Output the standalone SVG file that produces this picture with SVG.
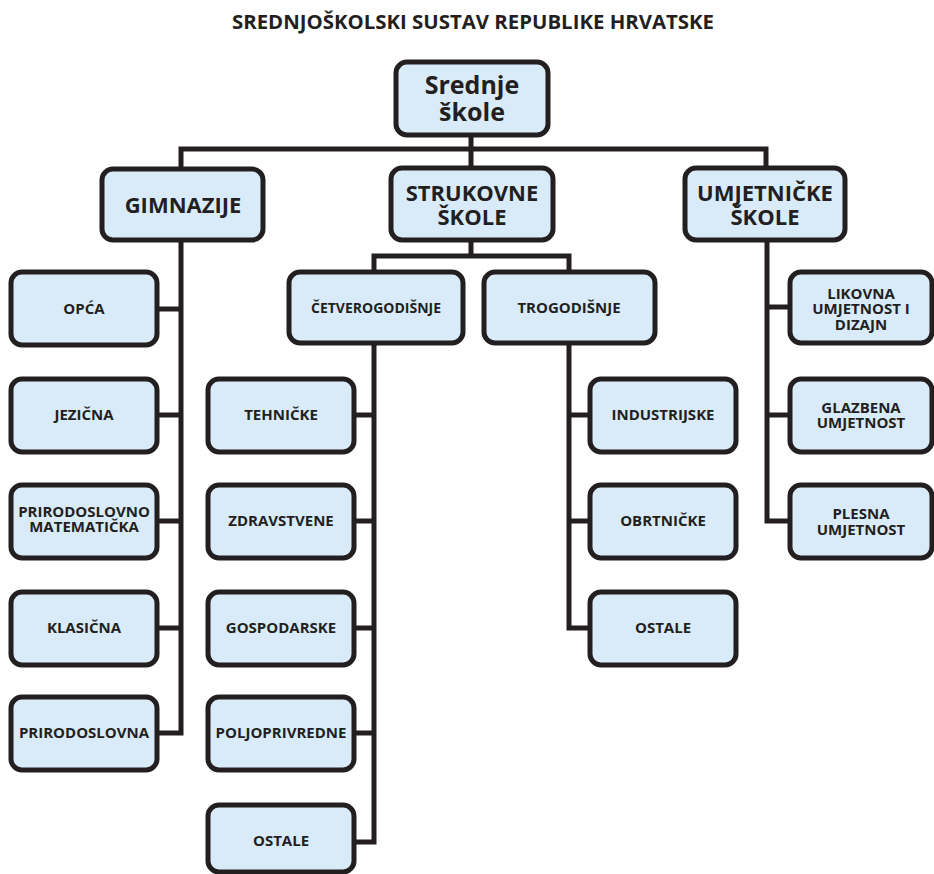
<svg xmlns="http://www.w3.org/2000/svg" width="934" height="874" viewBox="0 0 934 874">
<style>
.box{fill:#d9ebf9;stroke:#231f20;stroke-width:5}
.ln{fill:none;stroke:#231f20;stroke-width:5;stroke-linejoin:miter}
text{font-family:"Open Sans","Noto Sans",sans-serif;font-weight:700;fill:#231f20;text-anchor:middle}
.t{font-size:19px}
.r{font-size:25px}
.m{font-size:22px}
.s{font-size:15px}
.c{font-size:14px}
</style>
<rect width="934" height="874" fill="#ffffff"/>
<text class="t" x="473" y="29" textLength="482" lengthAdjust="spacingAndGlyphs">SREDNJOŠKOLSKI SUSTAV REPUBLIKE HRVATSKE</text>
<g id="connectors">
<path class="ln" d="M471 135V167M181 170V149H766V170"/>
<path class="ln" d="M181 240V733H157M181 309H157M181 415H157M181 521H157M181 628H157"/>
<path class="ln" d="M471 240V256M374 272V256H569V272"/>
<path class="ln" d="M374 343V842H354M374 415H354M374 521H354M374 628H354M374 733H354"/>
<path class="ln" d="M569 343V628H590M569 415H590M569 521H590"/>
<path class="ln" d="M767 240V521H790M767 307H790M767 415H790"/>
</g>
<g id="root"><rect class="box" x="396" y="62" width="152" height="73" rx="11"/><text class="r" x="472" y="94">Srednje</text><text class="r" x="472" y="121">škole</text></g>
<g id="gimnazije"><rect class="box" x="102" y="169" width="161" height="71" rx="11"/><text class="m" x="183" y="213">GIMNAZIJE</text></g>
<g id="strukovne"><rect class="box" x="391" y="168" width="162" height="72" rx="11"/><text class="m" x="472" y="201">STRUKOVNE</text><text class="m" x="472" y="225">ŠKOLE</text></g>
<g id="umjetnicke"><rect class="box" x="685" y="168" width="160" height="72" rx="11"/><text class="m" x="765" y="201">UMJETNIČKE</text><text class="m" x="765" y="225">ŠKOLE</text></g>
<g id="opca"><rect class="box" x="11" y="272" width="146" height="73" rx="11"/><text class="s" x="84" y="314">OPĆA</text></g>
<g id="jezicna"><rect class="box" x="11" y="379" width="146" height="73" rx="11"/><text class="s" x="84" y="420">JEZIČNA</text></g>
<g id="primat"><rect class="box" x="11" y="485" width="146" height="73" rx="11"/><text class="s" x="84" y="517">PRIRODOSLOVNO</text><text class="s" x="84" y="532">MATEMATIČKA</text></g>
<g id="klasicna"><rect class="box" x="11" y="592" width="146" height="73" rx="11"/><text class="s" x="84" y="633">KLASIČNA</text></g>
<g id="prirodoslovna"><rect class="box" x="11" y="697" width="146" height="73" rx="11"/><text class="s" x="84" y="738">PRIRODOSLOVNA</text></g>
<g id="cetverogodisnje"><rect class="box" x="289" y="272" width="174" height="71" rx="11"/><text class="c" x="376" y="313">ČETVEROGODIŠNJE</text></g>
<g id="trogodisnje"><rect class="box" x="484" y="272" width="171" height="71" rx="11"/><text class="s" x="569" y="313">TROGODIŠNJE</text></g>
<g id="tehnicke"><rect class="box" x="208" y="379" width="146" height="73" rx="11"/><text class="s" x="281" y="420">TEHNIČKE</text></g>
<g id="zdravstvene"><rect class="box" x="208" y="485" width="146" height="73" rx="11"/><text class="s" x="281" y="526">ZDRAVSTVENE</text></g>
<g id="gospodarske"><rect class="box" x="208" y="592" width="146" height="73" rx="11"/><text class="s" x="281" y="633">GOSPODARSKE</text></g>
<g id="poljoprivredne"><rect class="box" x="208" y="697" width="146" height="73" rx="11"/><text class="s" x="281" y="738">POLJOPRIVREDNE</text></g>
<g id="ostale1"><rect class="box" x="208" y="805" width="146" height="67" rx="11"/><text class="s" x="281" y="846">OSTALE</text></g>
<g id="industrijske"><rect class="box" x="590" y="379" width="146" height="73" rx="11"/><text class="s" x="663" y="420">INDUSTRIJSKE</text></g>
<g id="obrtnicke"><rect class="box" x="590" y="485" width="146" height="73" rx="11"/><text class="s" x="663" y="526">OBRTNIČKE</text></g>
<g id="ostale2"><rect class="box" x="590" y="592" width="146" height="73" rx="11"/><text class="s" x="663" y="633">OSTALE</text></g>
<g id="likovna"><rect class="box" x="790" y="272" width="142" height="71" rx="11"/><text class="s" x="861" y="299">LIKOVNA</text><text class="s" x="861" y="314">UMJETNOST I</text><text class="s" x="861" y="330">DIZAJN</text></g>
<g id="glazbena"><rect class="box" x="790" y="379" width="142" height="73" rx="11"/><text class="s" x="861" y="413">GLAZBENA</text><text class="s" x="861" y="428">UMJETNOST</text></g>
<g id="plesna"><rect class="box" x="790" y="485" width="142" height="73" rx="11"/><text class="s" x="861" y="519">PLESNA</text><text class="s" x="861" y="535">UMJETNOST</text></g>
</svg>
